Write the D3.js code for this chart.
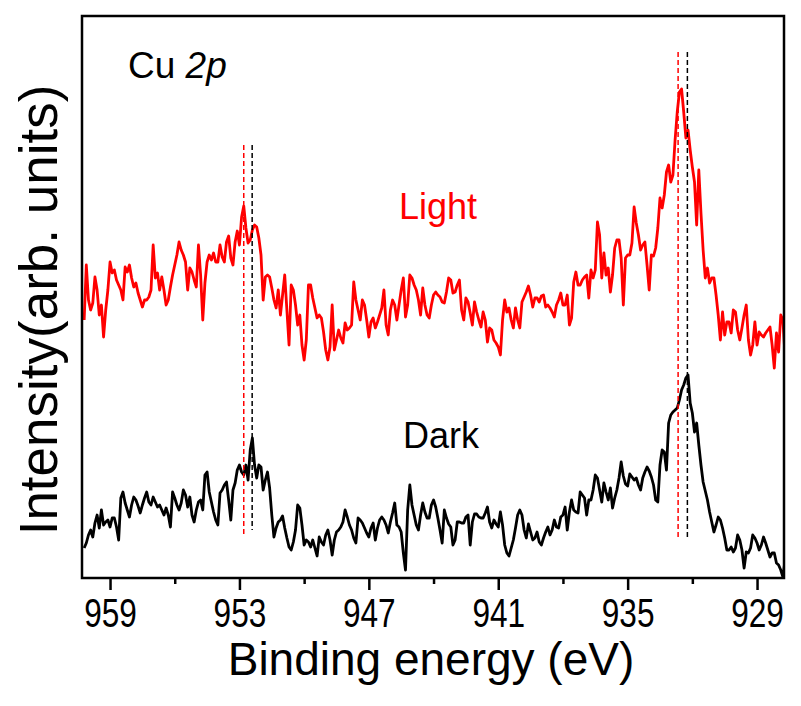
<!DOCTYPE html>
<html>
<head>
<meta charset="utf-8">
<script src="https://cdn.jsdelivr.net/npm/d3@7"></script>
<style>
  html, body { margin: 0; padding: 0; background: #fff; }
  svg { display: block; font-family: "Liberation Sans", Arial, sans-serif; }
</style>
</head>
<body>
<svg id="chart" width="801" height="706"></svg>
<script>
// Cu 2p XPS spectra under light and in the dark (arb. units),
// sampled on a 0.1 eV binding-energy grid from 960.2 eV down to 927.7 eV.
const energyStart = 960.2;
const energyStep = 0.1;

const lightIntensity = [
  258,313,278,268,275,301,288,263,273,241,
  268,288,316,305,308,298,293,288,278,311,
  306,313,300,291,295,285,278,271,278,278,
  281,288,333,300,305,288,301,288,273,278,
  291,303,313,323,336,328,323,316,288,310,
  306,298,291,333,303,258,295,316,323,318,
  325,316,316,333,321,316,336,342,320,313,
  336,347,333,361,372,350,335,338,348,353,
  351,340,323,278,301,303,301,290,278,270,
  288,263,283,303,268,233,293,288,273,253,
  263,233,218,238,293,293,280,270,260,263,
  260,246,228,218,231,273,228,238,248,240,
  235,255,248,250,253,296,278,268,258,278,
  273,258,241,256,260,250,256,263,270,288,
  253,243,268,278,273,258,273,288,300,261,
  273,303,300,293,288,278,263,290,273,263,
  260,273,283,286,283,281,276,275,286,300,
  298,285,286,293,298,268,258,280,276,265,
  253,276,266,258,251,266,258,236,250,248,
  238,235,231,223,258,278,266,270,258,250,
  270,258,250,276,281,286,292,283,271,280,
  280,276,282,283,271,273,270,266,261,273,
  278,285,273,273,283,253,260,296,306,293,
  293,298,301,303,280,308,300,308,356,343,
  300,325,303,310,286,303,330,338,338,320,
  273,320,323,323,335,371,355,343,328,333,
  336,313,288,323,322,330,350,380,370,383,
  406,413,396,403,438,466,486,489,466,440,
  448,428,411,396,353,408,365,328,300,310,
  295,300,300,283,263,238,266,243,256,256,
  245,268,266,248,238,250,263,273,238,223,
  233,256,233,246,243,241,245,248,251,233,
  210,245,226,263,258,221
];

const darkIntensity = [
  30,35,43,48,41,55,63,50,68,53,
  56,58,51,60,60,51,38,80,86,75,
  68,61,73,81,78,72,65,73,80,86,
  76,73,81,76,71,73,68,63,70,63,
  51,86,80,73,68,75,88,83,71,81,
  63,56,68,76,78,68,103,106,86,76,
  66,58,53,85,88,93,96,78,58,88,
  95,108,113,106,103,113,98,128,140,113,
  100,113,111,88,98,106,90,63,41,50,
  56,58,62,50,40,31,28,36,48,73,
  70,53,33,38,36,31,38,30,22,41,
  36,33,43,48,38,23,38,46,48,51,
  56,68,61,53,48,40,35,60,58,55,
  50,45,41,50,55,38,50,58,61,58,
  53,45,56,65,75,53,51,46,25,8,
  68,93,73,63,53,48,63,75,66,60,
  60,73,78,71,60,48,35,68,60,54,
  51,33,38,56,56,55,55,61,63,33,
  56,64,64,61,60,60,65,71,56,50,
  58,54,51,66,53,33,25,22,30,38,
  50,63,68,63,48,40,54,46,38,40,
  46,36,33,40,46,51,43,48,58,51,
  50,61,63,71,48,66,78,68,66,65,
  86,83,80,63,78,78,88,103,100,88,
  76,95,86,78,90,70,80,88,100,116,
  102,94,92,104,101,98,100,93,88,100,
  106,111,107,101,93,78,76,113,128,126,
  108,155,163,166,168,170,178,188,193,200,
  203,175,165,146,155,133,113,96,87,78,
  66,56,46,53,61,58,50,40,28,28,
  31,26,30,43,38,28,10,26,25,30,
  43,40,35,28,33,41,35,28,21,25,
  25,15,13,8,1,18
];

const bindingEnergy = lightIntensity.map((_, i) => +(energyStart - i * energyStep).toFixed(1));

const majorTicks = [959, 953, 947, 941, 935, 929];
const minorTicks = [956, 950, 944, 938, 932];

// Peak positions (eV) marked by dashed guides: Cu 2p1/2 and Cu 2p3/2
const lightPeaks = [952.80, 932.66];
const darkPeaks = [952.41, 932.23];

// ---- layout ----
const plot = { left: 82, right: 784, top: 16, bottom: 578 };

const svg = d3.select("#chart");

const x = d3.scaleLinear().domain([960.3, 927.75]).range([plot.left, plot.right]);
const y = d3.scaleLinear().domain([0, 562]).range([plot.bottom, plot.top]);

svg.append("defs").append("clipPath").attr("id", "plot-clip")
  .append("rect")
  .attr("x", plot.left).attr("y", plot.top)
  .attr("width", plot.right - plot.left).attr("height", plot.bottom - plot.top);

const line = d3.line()
  .x((d, i) => x(bindingEnergy[i]))
  .y(d => y(d));

const series = svg.append("g").attr("clip-path", "url(#plot-clip)");

// dashed peak guides (vertical extents in intensity units)
const guides = [
  { e: lightPeaks[0], lo: 43, hi: 433, color: "#ff0000" },
  { e: darkPeaks[0],  lo: 48, hi: 433, color: "#000000" },
  { e: lightPeaks[1], lo: 38, hi: 526, color: "#ff0000" },
  { e: darkPeaks[1],  lo: 40, hi: 526, color: "#000000" }
];

series.append("path")
  .datum(lightIntensity)
  .attr("fill", "none")
  .attr("stroke", "#ff0000")
  .attr("stroke-width", 2.8)
  .attr("stroke-linejoin", "round")
  .attr("d", line);

series.append("path")
  .datum(darkIntensity)
  .attr("fill", "none")
  .attr("stroke", "#000000")
  .attr("stroke-width", 2.8)
  .attr("stroke-linejoin", "round")
  .attr("d", line);

series.selectAll("line.guide")
  .data(guides)
  .join("line")
  .attr("class", "guide")
  .attr("x1", d => x(d.e)).attr("x2", d => x(d.e))
  .attr("y1", d => y(d.hi)).attr("y2", d => y(d.lo))
  .attr("stroke", d => d.color)
  .attr("stroke-width", 1.5)
  .attr("stroke-dasharray", "5,3");

// ---- axes ----
const axisMajor = d3.axisBottom(x)
  .tickValues(majorTicks)
  .tickSize(12)
  .tickPadding(8)
  .tickFormat(d3.format("d"));

const axisMinor = d3.axisBottom(x)
  .tickValues(minorTicks)
  .tickSize(6)
  .tickFormat("");

const gMinor = svg.append("g")
  .attr("transform", `translate(0,${plot.bottom})`)
  .call(axisMinor);
gMinor.select(".domain").remove();
gMinor.selectAll(".tick line").attr("stroke", "#000").attr("stroke-width", 2.5);

const gMajor = svg.append("g")
  .attr("transform", `translate(0,${plot.bottom})`)
  .call(axisMajor);
gMajor.select(".domain").remove();
gMajor.selectAll(".tick line").attr("stroke", "#000").attr("stroke-width", 2.5);
gMajor.selectAll(".tick text")
  .attr("fill", "#000")
  .attr("transform", "scale(0.77,1)")
  .style("font-family", "'Liberation Sans', Arial, sans-serif")
  .style("font-size", "41px");

// frame
svg.append("rect")
  .attr("x", plot.left).attr("y", plot.top)
  .attr("width", plot.right - plot.left).attr("height", plot.bottom - plot.top)
  .attr("fill", "none")
  .attr("stroke", "#000")
  .attr("stroke-width", 2.5);

// axis titles
svg.append("text")
  .attr("x", 431).attr("y", 675)
  .attr("text-anchor", "middle")
  .style("font-size", "46px")
  .attr("fill", "#000")
  .text("Binding energy (eV)");

svg.append("text")
  .attr("transform", "translate(57,310) rotate(-90)")
  .attr("text-anchor", "middle")
  .style("font-size", "53px")
  .attr("fill", "#000")
  .text("Intensity(arb. units)");

// annotations
const cu = svg.append("text")
  .attr("x", 128).attr("y", 78)
  .style("font-size", "37px")
  .attr("fill", "#000");
cu.append("tspan").text("Cu ");
cu.append("tspan").style("font-style", "italic").text("2p");

svg.append("text")
  .attr("x", 399).attr("y", 219)
  .style("font-size", "36px")
  .attr("fill", "#ff0000")
  .text("Light");

svg.append("text")
  .attr("x", 403).attr("y", 448)
  .style("font-size", "36px")
  .attr("fill", "#000")
  .text("Dark");
</script>
</body>
</html>
